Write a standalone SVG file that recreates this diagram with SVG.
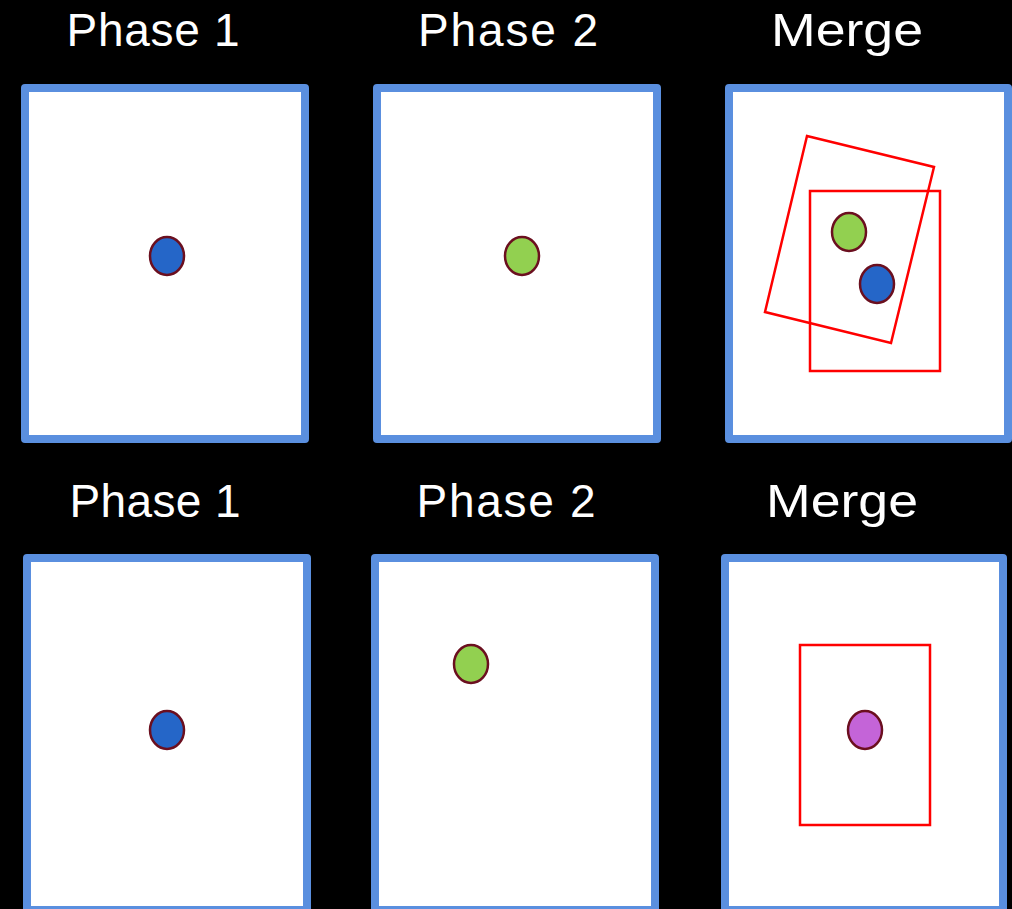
<svg xmlns="http://www.w3.org/2000/svg" width="1012" height="909" viewBox="0 0 1012 909">
  <style>
    .title { font-family: "Liberation Sans", Arial, sans-serif; font-size: 46px; fill: #ffffff; text-anchor: middle; }
    .frame { fill: #ffffff; stroke: #5a8fdf; stroke-width: 8; stroke-linejoin: round; }
    .dot { stroke: #6b0f1f; stroke-width: 2.5; }
    .blue { fill: #2566c8; }
    .green { fill: #92d050; }
    .purple { fill: #c464d8; }
    .bound { fill: none; stroke: #ff0000; stroke-width: 2.5; }
  </style>
  <rect width="1012" height="909" fill="#000000"/>

  <!-- top row -->
  <g id="top-phase1">
    <text class="title" x="153" y="46" textLength="173" lengthAdjust="spacing">Phase 1</text>
    <rect class="frame" x="25" y="88" width="280" height="351"/>
    <ellipse class="dot blue" cx="167" cy="256" rx="17" ry="19"/>
  </g>
  <g id="top-phase2">
    <text class="title" x="508" y="46" textLength="180" lengthAdjust="spacing">Phase 2</text>
    <rect class="frame" x="377" y="88" width="280" height="351"/>
    <ellipse class="dot green" cx="522" cy="256" rx="17" ry="19"/>
  </g>
  <g id="top-merge">
    <text class="title" x="847" y="46" textLength="152" lengthAdjust="spacingAndGlyphs">Merge</text>
    <rect class="frame" x="729" y="88" width="279" height="351"/>
    <polygon class="bound" points="807,136 934,167 891,343 765,312"/>
    <rect class="bound" x="810" y="191" width="130" height="180"/>
    <ellipse class="dot green" cx="849" cy="232" rx="17" ry="19"/>
    <ellipse class="dot blue" cx="877" cy="284" rx="17" ry="19"/>
  </g>

  <!-- bottom row -->
  <g id="bottom-phase1">
    <text class="title" x="155" y="517" textLength="171" lengthAdjust="spacing">Phase 1</text>
    <rect class="frame" x="27" y="558" width="280" height="352"/>
    <ellipse class="dot blue" cx="167" cy="730" rx="17" ry="19"/>
  </g>
  <g id="bottom-phase2">
    <text class="title" x="506" y="517" textLength="179" lengthAdjust="spacing">Phase 2</text>
    <rect class="frame" x="375" y="558" width="280" height="352"/>
    <ellipse class="dot green" cx="471" cy="664" rx="17" ry="19"/>
  </g>
  <g id="bottom-merge">
    <text class="title" x="842" y="517" textLength="152" lengthAdjust="spacingAndGlyphs">Merge</text>
    <rect class="frame" x="725" y="558" width="278" height="352"/>
    <rect class="bound" x="800" y="645" width="130" height="180"/>
    <ellipse class="dot purple" cx="865" cy="730" rx="17" ry="19"/>
  </g>

  <g id="connectors"/>
</svg>
